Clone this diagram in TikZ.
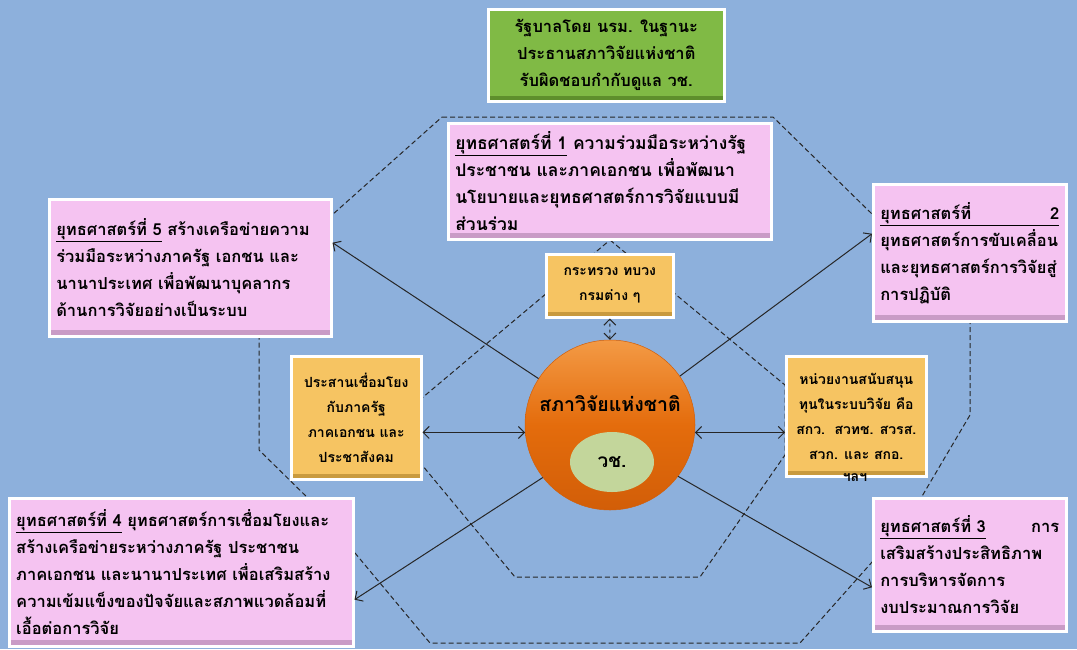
\documentclass[tikz,border=0pt]{standalone}
\usepackage{fontspec}
\newfontfamily\thaifont[Script=Thai]{Loma}
\usetikzlibrary{arrows.meta,shadows,shapes.geometric}
\definecolor{bgblue}{HTML}{8DB0DC}
\definecolor{pinkfill}{HTML}{F5C3F1}
\definecolor{pinkedge}{HTML}{C99BC6}
\definecolor{orangefill}{HTML}{F6C462}
\definecolor{orangeedge}{HTML}{C99A3E}
\definecolor{greenfill}{HTML}{80BA45}
\definecolor{greenedge}{HTML}{5E8F2C}
\definecolor{ballorange}{HTML}{E46C0C}
\definecolor{balltop}{HTML}{F39A45}
\definecolor{ballbottom}{HTML}{D25E08}
\definecolor{paleolive}{HTML}{C3D69B}
\definecolor{linegray}{HTML}{262626}
\tikzset{
  card/.style={draw=white,line width=2.5pt,anchor=north west,inner sep=7pt,text=black,
    font=\thaifont\bfseries\fontsize{16.5}{27}\selectfont,
    drop shadow={shadow xshift=1.5pt,shadow yshift=-2pt,opacity=.3}},
  pinkcard/.style={card,fill=pinkfill,align=left,
    path picture={\fill[pinkedge] (path picture bounding box.south west) rectangle ([yshift=6pt]path picture bounding box.south east);}},
  orangecard/.style={card,fill=orangefill,align=center,font=\thaifont\bfseries\fontsize{14}{25}\selectfont,
    path picture={\fill[orangeedge] (path picture bounding box.south west) rectangle ([yshift=5pt]path picture bounding box.south east);}},
  greencard/.style={card,fill=greenfill,align=center,font=\thaifont\bfseries\fontsize{16.5}{27}\selectfont,
    path picture={\fill[greenedge] (path picture bounding box.south west) rectangle ([yshift=5pt]path picture bounding box.south east);}},
  dashline/.style={linegray,line width=1pt,dash pattern=on 5pt off 3pt},
  link/.style={linegray,line width=1pt}
}
\newcommand{\strat}[1]{\underline{ยุทธศาสตร์ที่ #1}}
\begin{document}
\begin{tikzpicture}[x=1pt,y=-1pt,>={Straight Barb[length=6pt,width=12pt]}]
  \useasboundingbox (0,0) rectangle (1077,649);
  \fill[bgblue] (0,0) rectangle (1077,649);
  % dashed outlines
  \draw[dashline] (442,117) -- (773,117) -- (970,310) -- (970,415) -- (905,525) -- (800,643)
    -- (430,643) -- (315,505) -- (259,450) -- (259,280) -- cycle;
  \draw[dashline] (610,240) -- (785,385) -- (785,455) -- (700,577) -- (515,577) -- (422,465)
    -- (422,398) -- cycle;
  % boxes
  \node[greencard,minimum width=236pt,minimum height=92pt] (gov) at (487,8)
    {รัฐบาลโดย นรม. ในฐานะ\\ประธานสภาวิจัยแห่งชาติ\\รับผิดชอบกำกับดูแล วช.};
  \node[pinkcard,text width=309pt,minimum height=116pt,font=\thaifont\bfseries\fontsize{17.5}{27}\selectfont] (s1) at (447,122)
    {\strat{1} ความร่วมมือระหว่างรัฐ\\ประชาชน และภาคเอกชน เพื่อพัฒนา\\นโยบายและยุทธศาสตร์การวิจัยแบบมี\\ส่วนร่วม};
  \node[pinkcard,text width=268pt,minimum height=137pt] (s5) at (48,198)
    {\strat{5} สร้างเครือข่ายความ\\ร่วมมือระหว่างภาครัฐ เอกชน และ\\นานาประเทศ เพื่อพัฒนาบุคลากร\\ด้านการวิจัยอย่างเป็นระบบ};
  \node[pinkcard,text width=179pt,minimum height=137pt] (s2) at (872,183)
    {\underline{\makebox[\linewidth][l]{ยุทธศาสตร์ที่\hfill 2}}\\ยุทธศาสตร์การขับเคลื่อน\\และยุทธศาสตร์การวิจัยสู่\\การปฏิบัติ};
  \node[pinkcard,text width=179pt,minimum height=133pt] (s3) at (872,497)
    {\strat{3}\hfill การ\\เสริมสร้างประสิทธิภาพ\\การบริหารจัดการ\\งบประมาณการวิจัย};
  \node[pinkcard,text width=330pt,minimum height=148pt] (s4) at (8,497)
    {\strat{4} ยุทธศาสตร์การเชื่อมโยงและ\\สร้างเครือข่ายระหว่างภาครัฐ ประชาชน\\ภาคเอกชน และนานาประเทศ เพื่อเสริมสร้าง\\ความเข้มแข็งของปัจจัยและสภาพแวดล้อมที่\\เอื้อต่อการวิจัย};
  \node[orangecard,minimum width=127pt,minimum height=63pt] (otop) at (545,253)
    {กระทรวง ทบวง\\กรมต่าง ๆ};
  \node[orangecard,minimum width=130pt,minimum height=123pt] (oleft) at (290,355)
    {ประสานเชื่อมโยง\\กับภาครัฐ\\ภาคเอกชน และ\\ประชาสังคม};
  \node[orangecard,minimum width=140pt,minimum height=120pt] (oright) at (785,355)
    {หน่วยงานสนับสนุน\\ทุนในระบบวิจัย คือ\\สกว.\ \ สวทช. สวรส.\\สวก. และ สกอ.};
  \node[font=\thaifont\bfseries\fontsize{14}{25}\selectfont,inner sep=0pt] (etc) at (855,478) {ฯลฯ};
  % council
  \node[circle,minimum size=170pt,inner sep=0pt,draw=ballbottom,line width=.5pt,
    top color=balltop,bottom color=ballbottom,middle color=ballorange] (nrc) at (610,425) {};
  \node[ellipse,fill=paleolive,minimum width=84pt,minimum height=60pt,inner sep=0pt,
    font=\thaifont\bfseries\fontsize{19}{24}\selectfont] (nrct) at (612,462) {วช.};
  \node[font=\thaifont\bfseries\fontsize{19.5}{26}\selectfont] (nrcname) at (610,404) {สภาวิจัยแห่งชาติ};
  % links
  \draw[link,->] (nrc.147) -- (s5.10);
  \draw[link,->] (nrc.35) -- (s2.169);
  \draw[link,->] (nrc.218) -- (s4.-9);
  \draw[link,->] (nrc.-37) -- (s3.193);
  \draw[link,<->] (nrc.185) -- (nrc.185 -| oleft.east);
  \draw[link,<->] (nrc.-5) -- (nrc.-5 -| oright.west);
  \draw[link,dashed,<->] (nrc.north) -- (otop.south);
\end{tikzpicture}
\end{document}
